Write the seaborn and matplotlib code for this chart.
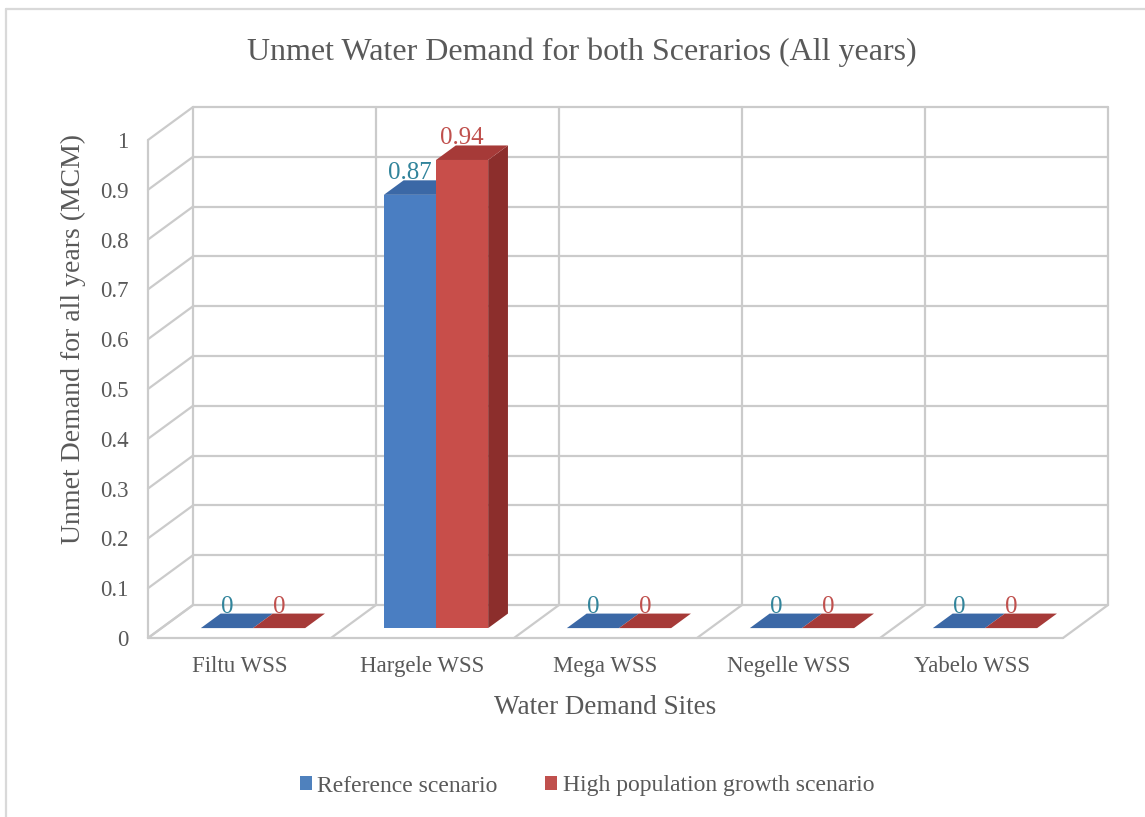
import numpy as np
import pandas as pd
import matplotlib
matplotlib.use("Agg")
import matplotlib.pyplot as plt
from matplotlib.patches import Polygon, Patch
from matplotlib.lines import Line2D
from matplotlib.transforms import Affine2D
import seaborn as sns

# ---- data ----
sites = ["Filtu WSS", "Hargele WSS", "Mega WSS", "Negelle WSS", "Yabelo WSS"]
scenarios = ["Reference scenario", "High population growth scenario"]
reference_unmet = [0, 0.87, 0, 0, 0]
high_growth_unmet = [0, 0.94, 0, 0, 0]
y_ticks = [0, 0.1, 0.2, 0.3, 0.4, 0.5, 0.6, 0.7, 0.8, 0.9, 1.0]
y_tick_labels = ["0", "0.1", "0.2", "0.3", "0.4", "0.5", "0.6", "0.7", "0.8", "0.9", "1"]

df = pd.DataFrame({
    "site": sites * 2,
    "scenario": [scenarios[0]] * len(sites) + [scenarios[1]] * len(sites),
    "unmet": reference_unmet + high_growth_unmet,
})

# ---- styling ----
sns.set_theme(style="white")
plt.rcParams["font.family"] = ["Liberation Serif", "DejaVu Serif"]
TEXT = "#595959"
GRID = "#CBCBCB"
front_col = {scenarios[0]: "#4A7EC2", scenarios[1]: "#C84E4A"}
side_col = {scenarios[0]: "#2F5A8F", scenarios[1]: "#8C2E2C"}
top_col = {scenarios[0]: "#3B68A6", scenarios[1]: "#A63A38"}
label_col = {scenarios[0]: "#31849B", scenarios[1]: "#C0504D"}
legend_col = {scenarios[0]: "#4F81BD", scenarios[1]: "#C0504D"}

W, H = 1145, 817
fig = plt.figure(figsize=(W / 100, H / 100), dpi=100)
fig.patch.set_facecolor("white")

# front plane of the 3-D box
ax_l, ax_r, ax_b, ax_t = 148, 1063, 638, 140
ax = fig.add_axes([ax_l / W, 1 - ax_b / H, (ax_r - ax_l) / W, (ax_b - ax_t) / H])
ax.set_facecolor("none")

sns.barplot(data=df, x="site", y="unmet", hue="scenario", hue_order=scenarios,
            order=sites, palette=[front_col[s] for s in scenarios],
            width=0.57, gap=0, saturation=1, legend=False, ax=ax)
ax.set_xlim(-0.5, len(sites) - 0.5)
ax.set_ylim(0, 1)

# depth vector of the box, in data units
ux = (ax_r - ax_l) / len(sites)
uy = (ax_b - ax_t) / 1.0
Dx, Dy = 45 / ux, 33 / uy
f_front, f_back = 0.30, 0.74

gkw = dict(color=GRID, lw=1.6, zorder=1, clip_on=False, solid_capstyle="round")
x_lo, x_hi = -0.5, len(sites) - 0.5
# back wall
for v in y_ticks:
    ax.plot([x_lo + Dx, x_hi + Dx], [v + Dy, v + Dy], **gkw)
for k in range(len(sites) + 1):
    ax.plot([x_lo + k + Dx] * 2, [Dy, 1 + Dy], **gkw)
# side wall
ax.plot([x_lo, x_lo], [0, 1], **gkw)
for v in y_ticks:
    ax.plot([x_lo, x_lo + Dx], [v, v + Dy], **gkw)
# floor
ax.plot([x_lo, x_hi], [0, 0], **gkw)
for k in range(len(sites) + 1):
    ax.plot([x_lo + k, x_lo + k + Dx], [0, Dy], **gkw)

# extrude the bars into 3-D blocks
shift = Affine2D().translate(f_front * Dx, f_front * Dy) + ax.transData
dx, dy = (f_back - f_front) * Dx, (f_back - f_front) * Dy
for z, (scen, cont) in enumerate(zip(scenarios, ax.containers)):
    for rect in cont:
        x0, w, h = rect.get_x(), rect.get_width(), rect.get_height()
        rect.set_transform(shift)
        rect.set_edgecolor("none")
        rect.set_zorder(3 + z)
        side = Polygon([(x0 + w, 0), (x0 + w + dx, dy), (x0 + w + dx, h + dy), (x0 + w, h)],
                       closed=True, facecolor=side_col[scen], edgecolor="none",
                       transform=shift, zorder=3 + z, clip_on=False)
        top = Polygon([(x0, h), (x0 + w, h), (x0 + w + dx, h + dy), (x0 + dx, h + dy)],
                      closed=True, facecolor=top_col[scen], edgecolor="none",
                      transform=shift, zorder=3 + z, clip_on=False)
        ax.add_patch(side)
        ax.add_patch(top)
        ax.text(x0 + w / 2 + f_front * Dx, h + f_back * Dy + 0.002, f"{h:g}",
                ha="center", va="baseline", color=label_col[scen], fontsize=18,
                zorder=6, clip_on=False)

# axes cosmetics
for s in ax.spines.values():
    s.set_visible(False)
ax.set_yticks(y_ticks)
ax.set_yticklabels(y_tick_labels)
ax.tick_params(axis="both", length=0, labelsize=16.5, labelcolor=TEXT)
ax.tick_params(axis="y", pad=14)
ax.tick_params(axis="x", pad=13)
ax.grid(False)

ax.set_xlabel("Water Demand Sites", fontsize=19.5, color=TEXT)
ax.xaxis.set_label_coords(0.5, -0.115)
ax.set_ylabel("Unmet Demand for all years (MCM)", fontsize=20, color=TEXT)
ax.yaxis.set_label_coords(-0.068, 0.60)

fig.text(582 / W, 1 - 52 / H, "Unmet Water Demand for both Scerarios (All years)",
         ha="center", va="center", fontsize=23, color=TEXT)

handles = [Patch(facecolor=legend_col[s], edgecolor="none") for s in scenarios]
fig.legend(handles, scenarios, loc="center", bbox_to_anchor=(587 / W, 1 - 786 / H),
           ncol=2, frameon=False, fontsize=17, handlelength=0.5, handleheight=0.5,
           handletextpad=0.25, columnspacing=2.0, labelcolor=TEXT)

# chart-area border
bkw = dict(transform=fig.transFigure, color="#D9D9D9", lw=1.6)
fig.add_artist(Line2D([6 / W, 6 / W], [0, 1 - 9 / H], **bkw))
fig.add_artist(Line2D([6 / W, 1], [1 - 9 / H, 1 - 9 / H], **bkw))

fig.savefig("out.png", dpi=100)
